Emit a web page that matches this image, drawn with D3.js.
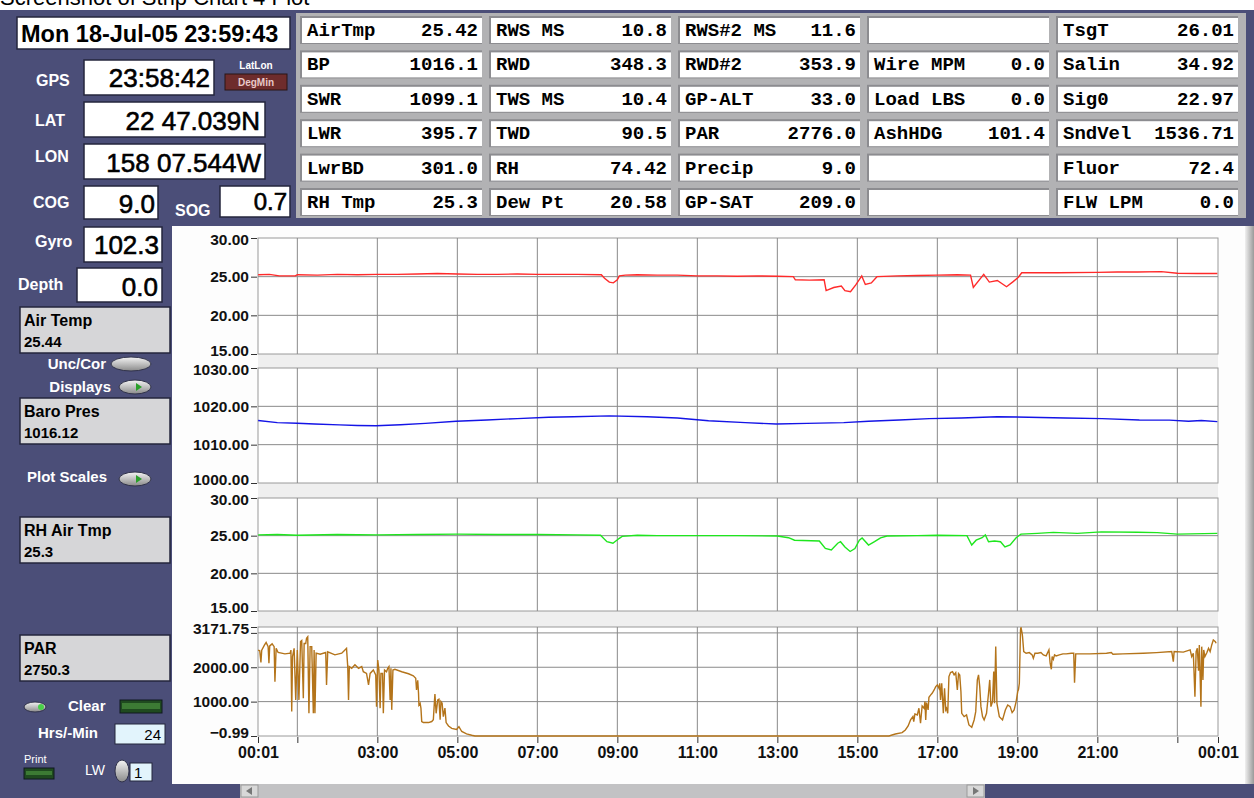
<!DOCTYPE html>
<meta charset="utf-8">
<body style="margin:0;background:#fff;overflow:hidden">
    <div id="chart"></div>
</body>
<script src="https://cdn.jsdelivr.net/npm/d3@7"></script>
<script>
    var svg_width = 1254,
        svg_height = 798;

    // x axis: hours since midnight (00:01 -> 00:01 next day)
    var hourTicks = [1/60, 1, 3, 5, 7, 9, 11, 13, 15, 17, 19, 21, 23, 24 + 1/60];
    var hourLabels = ["00:01", "", "03:00", "05:00", "07:00", "09:00", "11:00", "13:00",
                      "15:00", "17:00", "19:00", "21:00", "", "00:01"];
    var gridHours = [1, 3, 5, 7, 9, 11, 13, 15, 17, 19, 21, 23];

    // y ticks of the 4 strips
    var tempTicks = [15, 20, 25, 30];
    var baroTicks = [1000, 1010, 1020, 1030];
    var parTicks = [-0.99, 1000, 2000, 3000, 3171.75];

    // series, [hour, value]
    var airTemp = [[0.02,25.25],[0.3,25.3],[0.55,25.1],[0.95,25.1],[1.0,25.25],[1.5,25.2],[2.0,25.3],
        [2.5,25.25],[3.0,25.3],[3.5,25.3],[4.0,25.35],[4.5,25.4],[5.0,25.35],[5.5,25.3],[6.0,25.3],
        [6.5,25.35],[7.0,25.3],[7.5,25.3],[8.0,25.3],[8.6,25.25],[8.68,24.8],[8.8,24.3],[8.9,24.2],
        [9.0,24.6],[9.05,25.1],[9.2,25.2],[9.5,25.25],[10.0,25.2],[10.5,25.2],[11.0,25.1],[11.5,25.1],
        [12.0,25.05],[12.5,25.1],[13.0,25.05],[13.4,25.0],[13.45,24.6],[13.8,24.55],[14.17,24.6],
        [14.22,23.2],[14.41,23.6],[14.6,23.8],[14.69,23.2],[14.83,23.05],[14.97,24.0],[15.11,25.1],
        [15.2,24.0],[15.35,24.2],[15.49,25.0],[16.0,25.1],[16.5,25.15],[17.0,25.2],[17.5,25.25],
        [17.83,25.2],[17.9,23.6],[18.16,25.3],[18.3,24.3],[18.5,24.5],[18.73,23.7],[18.88,24.3],
        [19.02,24.9],[19.11,25.5],[20.0,25.5],[21.0,25.55],[21.5,25.6],[22.0,25.6],[22.6,25.65],
        [23.0,25.45],[23.5,25.4],[24.0,25.4]];

    var baroPres = [[0.02,1016.3],[0.5,1015.75],[1.0,1015.6],[1.43,1015.4],[2.05,1015.15],[2.5,1015.0],
        [2.97,1014.95],[3.58,1015.2],[4.2,1015.55],[4.97,1016.1],[5.74,1016.45],[6.5,1016.8],
        [7.28,1017.15],[7.9,1017.3],[8.8,1017.5],[9.74,1017.3],[10.5,1016.95],[11.28,1016.25],
        [12.2,1015.75],[12.97,1015.4],[13.74,1015.55],[14.66,1015.75],[15.28,1016.1],[16.05,1016.45],
        [16.8,1016.8],[17.6,1016.95],[18.5,1017.3],[19.28,1017.15],[20.2,1016.95],[21.12,1016.8],
        [22.05,1016.45],[22.8,1016.4],[23.28,1016.1],[23.6,1016.3],[24.0,1016.0]];

    var rhAirTmp = [[0.02,25.1],[0.5,25.15],[1.0,25.05],[2.0,25.15],[3.0,25.1],[4.0,25.15],[5.0,25.2],
        [6.0,25.15],[7.0,25.15],[8.0,25.1],[8.58,25.05],[8.74,24.2],[8.89,24.0],[9.05,24.65],[9.12,24.9],
        [9.5,25.05],[10.0,25.0],[11.0,25.0],[12.0,25.0],[13.0,24.95],[13.28,24.73],[13.43,24.4],
        [14.05,24.3],[14.2,23.3],[14.35,23.1],[14.51,24.0],[14.58,24.2],[14.69,23.5],[14.82,22.9],
        [14.94,23.3],[15.05,24.4],[15.12,24.7],[15.28,23.75],[15.43,24.2],[15.58,24.7],[15.74,24.96],
        [16.5,25.0],[17.0,25.05],[17.74,25.0],[17.86,23.76],[17.97,24.4],[18.12,24.73],[18.2,25.1],
        [18.28,24.2],[18.43,24.3],[18.58,24.2],[18.69,23.5],[18.82,23.76],[18.97,24.73],[19.09,25.2],
        [19.5,25.3],[19.9,25.44],[20.5,25.3],[21.1,25.5],[22.0,25.45],[22.5,25.4],[23.0,25.2],[24.0,25.3]];

    var parData = [[0.02,2500],[0.06,2480],[0.09,2140],[0.11,2500],[0.18,2650],[0.22,2720],[0.27,2600],
        [0.29,2120],[0.31,2620],[0.37,2680],[0.42,2600],[0.44,1580],[0.47,2550],[0.52,2430],[0.69,2390],
        [0.82,2410],[0.84,2500],[0.86,710],[0.88,2310],[0.92,2550],[0.96,1050],[1.0,2500],[1.04,1050],
        [1.08,2750],[1.11,2780],[1.15,1100],[1.17,2690],[1.21,2690],[1.23,2845],[1.26,2890],[1.29,660],
        [1.32,2600],[1.36,2600],[1.4,660],[1.42,2500],[1.44,660],[1.47,2410],[1.57,2380],[1.71,2430],
        [1.73,1485],[1.76,2450],[1.94,2360],[2.11,2410],[2.19,2505],[2.23,2550],[2.26,2020],[2.28,1050],
        [2.3,2020],[2.36,1970],[2.44,2070],[2.53,1970],[2.61,2020],[2.65,1870],[2.73,1820],[2.78,1485],
        [2.82,1820],[2.9,1920],[2.96,1780],[2.98,850],[3.01,2210],[3.04,1920],[3.07,810],[3.09,1820],
        [3.13,1820],[3.15,660],[3.18,1920],[3.23,1870],[3.26,1970],[3.29,2020],[3.32,1050],[3.34,1970],
        [3.36,760],[3.39,1920],[3.44,1940],[3.61,1870],[3.78,1810],[3.9,1750],[3.96,1680],[3.98,1340],
        [4.01,1620],[4.03,1240],[4.04,900],[4.07,950],[4.09,810],[4.11,420],[4.15,390],[4.28,390],
        [4.36,420],[4.4,470],[4.43,1050],[4.44,1220],[4.47,660],[4.51,1050],[4.54,1070],[4.57,470],
        [4.59,1000],[4.62,950],[4.65,560],[4.69,810],[4.72,390],[4.78,290],[4.86,220],[4.98,190],
        [5.04,270],[5.11,130],[5.23,60],[5.36,20],[5.44,0],[15.79,0],[15.95,58],[16.12,97],[16.2,175],
        [16.27,291],[16.33,466],[16.39,563],[16.41,420],[16.44,640],[16.5,610],[16.54,806],[16.58,370],
        [16.62,873],[16.67,806],[16.69,1000],[16.71,466],[16.73,970],[16.77,760],[16.79,1126],[16.83,1190],
        [16.87,1243],[16.92,1340],[16.96,1437],[17.0,1485],[17.04,1390],[17.06,1534],[17.08,1050],
        [17.11,1534],[17.15,660],[17.18,1390],[17.21,760],[17.23,806],[17.26,660],[17.29,1728],[17.33,1845],
        [17.38,1874],[17.42,1780],[17.46,1845],[17.5,1340],[17.53,1820],[17.56,1777],[17.59,1291],
        [17.61,660],[17.67,563],[17.73,610],[17.79,320],[17.86,252],[17.92,466],[17.96,708],[18.0,1631],
        [18.03,1777],[18.06,1437],[18.09,854],[18.13,563],[18.17,466],[18.23,660],[18.28,1243],[18.31,1631],
        [18.34,854],[18.38,1000],[18.41,1874],[18.43,950],[18.46,2602],[18.49,950],[18.55,563],[18.63,466],
        [18.7,757],[18.76,903],[18.82,854],[18.87,680],[18.92,757],[18.97,1000],[19.01,1291],[19.03,1360],
        [19.05,1534],[19.08,3087],[19.09,3165],[19.12,2990],[19.13,2893],[19.16,2456],[19.22,2408],
        [19.3,2427],[19.37,2360],[19.4,2262],[19.44,2408],[19.51,2408],[19.59,2427],[19.65,2360],
        [19.72,2330],[19.79,2505],[19.82,2117],[19.85,1942],[19.87,2310],[19.9,2230],[19.93,2360],
        [19.97,2330],[20.05,2360],[20.14,2390],[20.22,2390],[20.35,2408],[20.41,2408],[20.43,1553],
        [20.46,2390],[20.81,2390],[21.23,2408],[21.35,2427],[21.39,2380],[21.64,2390],[22.15,2408],
        [22.48,2427],[22.86,2456],[22.9,2165],[22.92,2456],[23.15,2440],[23.32,2505],[23.36,2310],
        [23.4,2408],[23.44,1145],[23.47,2456],[23.5,2553],[23.53,1900],[23.55,2650],[23.59,854],
        [23.61,2600],[23.64,1631],[23.66,2505],[23.69,2310],[23.74,2427],[23.78,2553],[23.82,2456],
        [23.86,2650],[23.9,2796],[23.95,2747],[23.97,2700]];

    // readout table, one list per column: [label, value]
    var readCol1 = [["AirTmp","25.42"],["BP","1016.1"],["SWR","1099.1"],["LWR","395.7"],["LwrBD","301.0"],["RH Tmp","25.3"]];
    var readCol2 = [["RWS MS","10.8"],["RWD","348.3"],["TWS MS","10.4"],["TWD","90.5"],["RH","74.42"],["Dew Pt","20.58"]];
    var readCol3 = [["RWS#2 MS","11.6"],["RWD#2","353.9"],["GP-ALT","33.0"],["PAR","2776.0"],["Precip","9.0"],["GP-SAT","209.0"]];
    var readCol4 = [["",""],["Wire MPM","0.0"],["Load LBS","0.0"],["AshHDG","101.4"],["",""],["",""]];
    var readCol5 = [["TsgT","26.01"],["Salin","34.92"],["Sig0","22.97"],["SndVel","1536.71"],["Fluor","72.4"],["FLW LPM","0.0"]];

    // left side values
    var clockText = "Mon 18-Jul-05 23:59:43";
    var navLabels = ["GPS", "LAT", "LON", "COG", "SOG", "Gyro", "Depth"];
    var navValues = ["23:58:42", "22 47.039N", "158 07.544W", "9.0", "0.7", "102.3", "0.0"];
    var stripNames = ["Air Temp", "Baro Pres", "RH Air Tmp", "PAR"];
    var stripValues = ["25.44", "1016.12", "25.3", "2750.3"];

    var PANEL = "#4b4e78";
    var SANS = "'Liberation Sans', Arial, sans-serif";
    var MONO = "'Liberation Mono', 'Courier New', monospace";

    var svg = d3.select("#chart").append("svg")
        .attr("width", svg_width)
        .attr("height", svg_height)
        .style("display", "block");

    var defs = svg.append("defs");
    var g1 = defs.append("linearGradient").attr("id", "knob").attr("x1", 0).attr("y1", 0).attr("x2", 0).attr("y2", 1);
    g1.append("stop").attr("offset", "0").attr("stop-color", "#f4f4f4");
    g1.append("stop").attr("offset", "1").attr("stop-color", "#8a8a8a");
    var g2 = defs.append("linearGradient").attr("id", "bevel").attr("x1", 0).attr("y1", 0).attr("x2", 1).attr("y2", 0);
    g2.append("stop").attr("offset", "0").attr("stop-color", "#f0f0f0");
    g2.append("stop").attr("offset", "1").attr("stop-color", "#9a9a9a");

    // page title (cut off at the top, as in the screenshot)
    svg.append("text").attr("x", 0).attr("y", 5)
        .style("font-family", SANS).style("font-size", "22px").text("Screenshot of Strip Chart 4 Plot");

    svg.append("rect").attr("x", 0).attr("y", 10).attr("width", svg_width).attr("height", svg_height - 10)
        .attr("fill", PANEL);

    // ---------- readout table ----------
    var cols = [readCol1, readCol2, readCol3, readCol4, readCol5];
    var colX = d3.scaleLinear().domain([0, 1]).range([302, 491]);
    var rowY = d3.scaleLinear().domain([0, 1]).range([18, 52.4]);
    svg.append("rect").attr("x", 296).attr("y", 13).attr("width", 950).attr("height", 205).attr("fill", "#b2b2b4");

    cols.forEach(function(col, ci) {
        var cell = svg.append("g").selectAll("g").data(col).enter().append("g")
            .attr("transform", function(d, ri) { return "translate(" + colX(ci) + "," + rowY(ri) + ")"; });
        cell.append("rect").attr("x", -2).attr("y", -2).attr("width", 182).attr("height", 28).attr("fill", "#8c8c90");
        cell.append("rect").attr("width", 180).attr("height", 25).attr("fill", "#fff");
        cell.append("text").attr("x", 5).attr("y", 18)
            .style("font-family", MONO).style("font-weight", "bold").style("font-size", "19px")
            .text(function(d) { return d[0]; });
        cell.append("text").attr("x", 176).attr("y", 18).attr("text-anchor", "end")
            .style("font-family", MONO).style("font-weight", "bold").style("font-size", "19px")
            .text(function(d) { return d[1]; });
    });

    // ---------- left side ----------
    function whiteBox(x, y, w, h) {
        svg.append("rect").attr("x", x).attr("y", y).attr("width", w).attr("height", h)
            .attr("fill", "#fff").attr("stroke", "#24263c").attr("stroke-width", 1.5);
    }
    function label(x, y, txt, size, anchor) {
        return svg.append("text").attr("x", x).attr("y", y).attr("text-anchor", anchor || "start")
            .attr("fill", "#fff").style("font-family", SANS).style("font-weight", "bold")
            .style("font-size", (size || 16) + "px").text(txt);
    }
    function bigValue(x, y, txt, size) {
        svg.append("text").attr("x", x).attr("y", y).attr("text-anchor", "end")
            .attr("stroke", "#000").attr("stroke-width", 0.6)
            .style("font-family", SANS).style("font-size", (size || 26) + "px").text(txt);
    }
    function toggle(cx, cy, rx, ry, arrow) {
        svg.append("ellipse").attr("cx", cx).attr("cy", cy).attr("rx", rx).attr("ry", ry)
            .attr("fill", "url(#knob)").attr("stroke", "#30324a");
        if (arrow) svg.append("path")
            .attr("d", "M" + (cx + 1) + "," + (cy - 4) + "L" + (cx + 7) + "," + cy + "L" + (cx + 1) + "," + (cy + 4) + "Z")
            .attr("fill", "#2aa02a");
    }
    function grayBox(y, name, val) {
        svg.append("rect").attr("x", 20).attr("y", y).attr("width", 150).attr("height", 46)
            .attr("fill", "#d6d6d8").attr("stroke", "#24263c").attr("stroke-width", 1.5);
        svg.append("text").attr("x", 24).attr("y", y + 19).style("font-family", SANS)
            .style("font-weight", "bold").style("font-size", "16px").text(name);
        svg.append("text").attr("x", 24).attr("y", y + 40).style("font-family", SANS)
            .style("font-weight", "bold").style("font-size", "15px").text(val);
    }
    function greenButton(x, y, w, h) {
        svg.append("rect").attr("x", x).attr("y", y).attr("width", w).attr("height", h)
            .attr("fill", "#1f4a1f").attr("stroke", "#101820");
        svg.append("rect").attr("x", x + 2).attr("y", y + 3).attr("width", w - 4).attr("height", h - 7)
            .attr("fill", "#3c7a34");
    }

    whiteBox(17, 17, 273, 32);
    svg.append("text").attr("x", 21).attr("y", 42).style("font-family", SANS)
        .style("font-weight", "bold").style("font-size", "23.5px").text(clockText);

    label(36, 86, navLabels[0]);
    whiteBox(84, 60, 130, 35); bigValue(210, 87, navValues[0]);
    label(256, 69, "LatLon", 10, "middle");
    svg.append("rect").attr("x", 225).attr("y", 74).attr("width", 62).attr("height", 16).attr("fill", "#6e2c2c").attr("stroke", "#2a1515");
    svg.append("text").attr("x", 256).attr("y", 86).attr("text-anchor", "middle").attr("fill", "#e8c8c8")
        .style("font-family", SANS).style("font-weight", "bold").style("font-size", "10px").text("DegMin");

    label(35, 126, navLabels[1]);
    whiteBox(84, 102, 181, 35); bigValue(260, 130, navValues[1]);
    label(35, 162, navLabels[2]);
    whiteBox(84, 144, 181, 35); bigValue(261, 172, navValues[2]);
    label(33, 208, navLabels[3]);
    whiteBox(84, 186, 74, 33); bigValue(155, 213, navValues[3]);
    label(175, 216, navLabels[4]);
    whiteBox(220, 186, 70, 31); bigValue(287, 210, navValues[4], 24);
    label(35, 247, navLabels[5]);
    whiteBox(84, 227, 78, 35); bigValue(159, 254, navValues[5]);
    label(18, 290, navLabels[6]);
    whiteBox(77, 268, 85, 34); bigValue(158, 296, navValues[6]);

    grayBox(307, stripNames[0], stripValues[0]);
    label(106, 369, "Unc/Cor", 15, "end"); toggle(131, 364, 20, 7, false);
    label(111, 392, "Displays", 15, "end"); toggle(135, 387, 16, 7, true);
    grayBox(398, stripNames[1], stripValues[1]);
    label(27, 482, "Plot Scales", 15); toggle(135, 479, 16, 7, true);
    grayBox(517, stripNames[2], stripValues[2]);
    grayBox(635, stripNames[3], stripValues[3]);

    svg.append("ellipse").attr("cx", 35).attr("cy", 707).attr("rx", 11).attr("ry", 5).attr("fill", "url(#knob)").attr("stroke", "#30324a");
    svg.append("circle").attr("cx", 41).attr("cy", 707).attr("r", 3).attr("fill", "#49d049");
    label(68, 711, "Clear", 15);
    greenButton(120, 700, 42, 13);
    label(38, 738, "Hrs/-Min", 15);
    svg.append("rect").attr("x", 115).attr("y", 724).attr("width", 50).attr("height", 20).attr("fill", "#e2f4fc").attr("stroke", "#24263c");
    svg.append("text").attr("x", 161).attr("y", 740).attr("text-anchor", "end").style("font-family", SANS).style("font-size", "15px").text("24");
    svg.append("text").attr("x", 24).attr("y", 763).attr("fill", "#fff").style("font-family", SANS).style("font-size", "11px").text("Print");
    greenButton(24, 768, 30, 11);
    svg.append("text").attr("x", 85).attr("y", 775).attr("fill", "#fff").style("font-family", SANS).style("font-size", "14px").text("LW");
    svg.append("ellipse").attr("cx", 122).attr("cy", 771).attr("rx", 7).attr("ry", 11).attr("fill", "url(#knob)").attr("stroke", "#30324a");
    svg.append("rect").attr("x", 130).attr("y", 763).attr("width", 22).attr("height", 18).attr("fill", "#e2f4fc").attr("stroke", "#24263c");
    svg.append("text").attr("x", 134).attr("y", 778).style("font-family", SANS).style("font-size", "15px").text("1");

    // ---------- chart panel ----------
    svg.append("rect").attr("x", 172).attr("y", 226).attr("width", 1073).attr("height", 558).attr("fill", "#fdfdfd");
    svg.append("rect").attr("x", 1245).attr("y", 226).attr("width", 9).attr("height", 558).attr("fill", "url(#bevel)");
    svg.append("rect").attr("x", 258).attr("y", 238).attr("width", 960).attr("height", 498).attr("fill", "#efefef");

    var x = d3.scaleLinear().domain([1/60, 24 + 1/60]).range([258, 1218]);

    var strips = [
        {data: airTemp, ticks: tempTicks, top: 238, bottom: 354, color: "#ff2a2a"},
        {data: baroPres, ticks: baroTicks, top: 368, bottom: 483, color: "#1414e6"},
        {data: rhAirTmp, ticks: tempTicks, top: 498, bottom: 611, color: "#1ee61e"},
        {data: parData, ticks: parTicks, top: 627, bottom: 736, color: "#b4741a"}
    ];

    strips.forEach(function(s, i) {
        var lo = s.ticks[0], hi = s.ticks[s.ticks.length - 1];
        var y = d3.scaleLinear().domain([lo, hi]).range([s.bottom, s.top]);
        var g = svg.append("g");
        g.append("rect").attr("x", 258).attr("y", s.top).attr("width", 960).attr("height", s.bottom - s.top)
            .attr("fill", "#fff").attr("stroke", "#9a9a9a");
        g.selectAll("line.v").data(gridHours).enter().append("line")
            .attr("x1", x).attr("x2", x).attr("y1", s.top).attr("y2", s.bottom)
            .attr("stroke", "#8a8a8a");
        g.selectAll("line.h").data(s.ticks.slice(1, -1)).enter().append("line")
            .attr("x1", 258).attr("x2", 1218).attr("y1", y).attr("y2", y)
            .attr("stroke", "#8a8a8a");

        var axis = d3.axisLeft(y).tickValues(s.ticks).tickSize(6).tickPadding(2)
            .tickFormat(function(d) { return d === 3000 ? "" : d3.format(".2f")(d); });
        var ag = g.append("g").attr("transform", "translate(257,0)").call(axis);
        ag.select(".domain").remove();
        ag.selectAll("line").attr("stroke", "#333");
        ag.selectAll("text").attr("fill", "#111").style("font-family", SANS)
            .style("font-weight", "bold").style("font-size", "15.5px")
            .attr("dy", function(d) { return d === lo ? "0.1em" : (d === hi ? "0.4em" : "0.32em"); });

        var line = d3.line().x(function(d) { return x(d[0]); }).y(function(d) { return y(d[1]); });
        g.append("path").datum(s.data).attr("d", line).attr("fill", "none")
            .attr("stroke", s.color).attr("stroke-width", 1.4);
    });

    var xAxis = d3.axisBottom(x).tickValues(hourTicks).tickSize(6).tickPadding(4)
        .tickFormat(function(d, i) { return hourLabels[i]; });
    var xg = svg.append("g").attr("transform", "translate(0,737)").call(xAxis);
    xg.select(".domain").remove();
    xg.selectAll("line").attr("stroke", "#333");
    xg.selectAll("text").attr("fill", "#111").style("font-family", SANS)
        .style("font-weight", "bold").style("font-size", "16px");

    // scrollbar
    svg.append("rect").attr("x", 240).attr("y", 784).attr("width", 745).attr("height", 14).attr("fill", "#c2c2c4");
    svg.append("rect").attr("x", 241).attr("y", 785).attr("width", 17).attr("height", 12).attr("fill", "#d8d8d8").attr("stroke", "#9a9a9a");
    svg.append("rect").attr("x", 967).attr("y", 785).attr("width", 17).attr("height", 12).attr("fill", "#d8d8d8").attr("stroke", "#9a9a9a");
    svg.append("path").attr("d", "M246,791L252,787L252,795Z").attr("fill", "#777");
    svg.append("path").attr("d", "M979,791L973,787L973,795Z").attr("fill", "#777");
</script>
